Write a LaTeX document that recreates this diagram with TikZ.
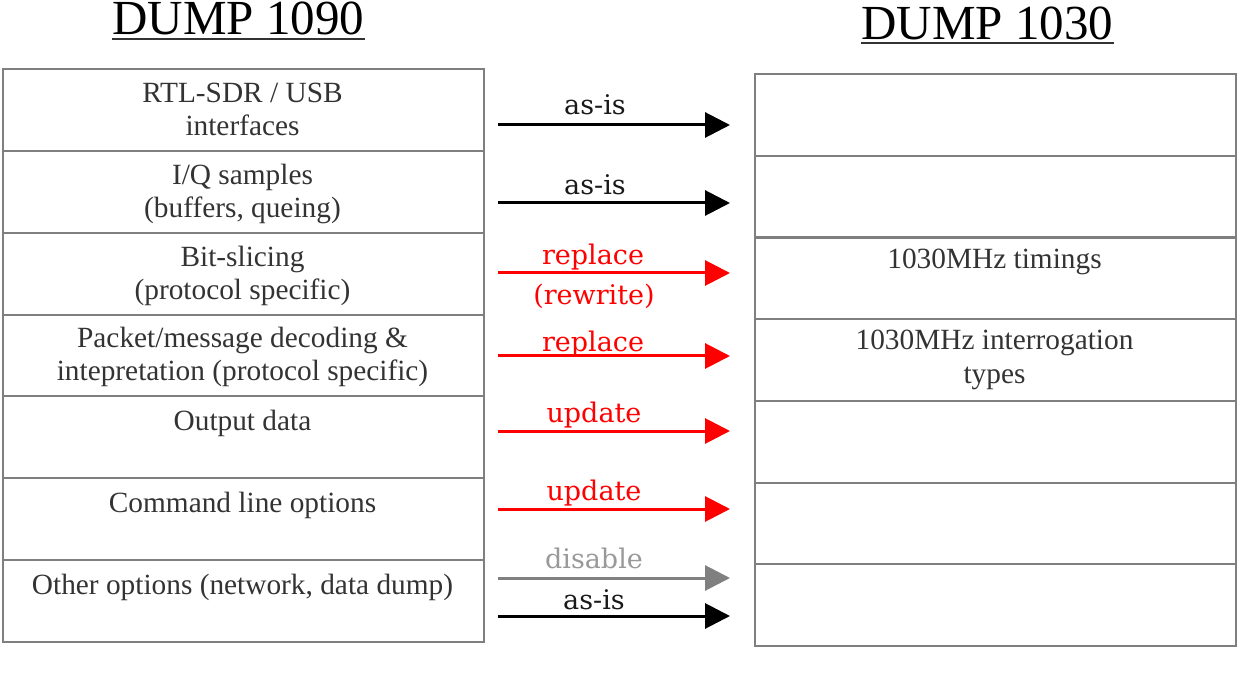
\documentclass[tikz,border=0pt]{standalone}
\usepackage{fontspec}
\setmainfont{Liberation Serif}
\newfontfamily\labelfont{DejaVu Serif}
\usetikzlibrary{arrows.meta}
\definecolor{boxline}{HTML}{7F7F7F}
\definecolor{boxtext}{HTML}{333333}
\definecolor{arrgray}{HTML}{808080}
\definecolor{labgray}{HTML}{999999}
\begin{document}
\begin{tikzpicture}[x=0.75pt,y=-0.75pt,
  cell/.style={draw=boxline, line width=1.5pt, minimum width=360.75pt, minimum height=61.4pt, inner sep=0pt, anchor=north west},
  boxtxt/.style={font=\fontsize{22}{24.75}\selectfont, text=boxtext, align=center, inner sep=0pt, anchor=base},
  title/.style={font=\fontsize{36.75}{40}\selectfont, text=black, inner sep=0pt, anchor=base},
  lab/.style={font=\labelfont\fontsize{20.25}{24}\selectfont, inner sep=0pt, anchor=base},
  arr/.style={line width=2.25pt, -{Triangle[length=18.75pt,width=18.75pt]}},
  arrblack/.style={arr, draw=black},
  arrred/.style={arr, draw=red},
  arrgrey/.style={arr, draw=arrgray}
]
\useasboundingbox (0,0) rectangle (1256,673);
% titles
\node[title] (t1) at (238.5,35) {DUMP 1090};
\node[title] (t2) at (987.5,40) {DUMP 1030};
\draw[line width=1.5pt, boxtext] ([yshift=-3pt]t1.base west) -- ([yshift=-3pt]t1.base east);
\draw[line width=1.5pt, boxtext] ([yshift=-2.5pt]t2.base west) -- ([yshift=-2.5pt]t2.base east);
% left column
\foreach \i/\y in {1/68,2/149.9,3/231.7,4/313.6,5/395.4,6/477.3,7/559.1}
  \node[cell] (L\i) at (2,\y) {};
% right column
\foreach \i/\y in {1/73,2/154.7,3/236.4,4/318.1,5/399.9,6/481.6,7/563.3}
  \node[cell] (R\i) at (754,\y) {};
% left texts (anchor base = last line baseline)
\node[boxtxt] (lt1) at (242.5,136) {RTL-SDR / USB\\interfaces};
\node[boxtxt] (lt2) at (242.5,218) {I/Q samples\\(buffers, queing)};
\node[boxtxt] (lt3) at (242.5,300) {Bit-slicing\\(protocol specific)};
\node[boxtxt] (lt4) at (242.5,381) {Packet/message decoding \&\\intepretation (protocol specific)};
\node[boxtxt] (lt5) at (242.5,430) {Output data};
\node[boxtxt] (lt6) at (242.5,512) {Command line options};
\node[boxtxt] (lt7) at (242.5,594) {Other options (network, data dump)};
% right texts
\node[boxtxt] (rt3) at (994.5,269) {1030MHz timings};
\node[boxtxt] (rt4) at (994.5,383) {1030MHz interrogation\\types};
% arrows
\foreach \i/\y in {1/125,2/203,3/273,4/356,5/431,6/509,7/578,8/616}{
  \coordinate (s\i) at (498,\y);
  \coordinate (e\i) at (730,\y);
}
\draw[arrblack] (s1) -- (e1);
\draw[arrblack] (s2) -- (e2);
\draw[arrred] (s3) -- (e3);
\draw[arrred] (s4) -- (e4);
\draw[arrred] (s5) -- (e5);
\draw[arrred] (s6) -- (e6);
\draw[arrgrey] (s7) -- (e7);
\draw[arrblack] (s8) -- (e8);
% labels
\node[lab, text=black!90] (l1) at (595,115) {as-is};
\node[lab, text=black!90] (l2) at (595,195) {as-is};
\node[lab, text=red] (l3) at (593,265) {replace};
\node[lab, text=red] (l3b) at (594,305) {(rewrite)};
\node[lab, text=red] (l4) at (593,352) {replace};
\node[lab, text=red] (l5) at (594,422) {update};
\node[lab, text=red] (l6) at (594,500) {update};
\node[lab, text=labgray] (l7) at (594,568) {disable};
\node[lab, text=black!90] (l8) at (594,609) {as-is};
\end{tikzpicture}
\end{document}
